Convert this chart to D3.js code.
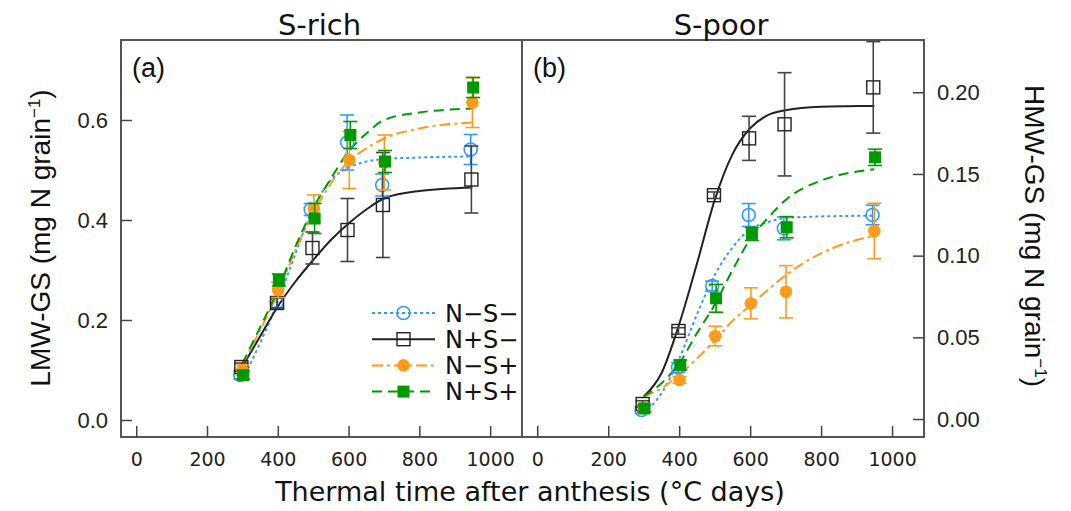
<!DOCTYPE html>
<html>
<head>
<meta charset="utf-8">
<script src="https://d3js.org/d3.v7.min.js"></script>
<style>
  body { margin: 0; background: #fff; }
</style>
</head>
<body>
<script>
// Dimensions
const width = 1071;
const height = 511;
const frameTop = 40;
const frameBottom = 437;

// Series (legend order)
const seriesNames = ["N−S−", "N+S−", "N−S+", "N+S+"];

// Sampling times (°C days), one per series - markers are slightly offset in the figure
const tBlue   = [294, 397, 493, 596, 695, 945];
const tBlack  = [297, 398, 498, 597, 697, 947];
const tOrange = [300, 401, 502, 602, 701, 950];
const tGreen  = [302, 403, 504, 605, 703, 952];

// (a) S-rich, LMW-GS means and error
const richBlue    = [0.090, 0.235, 0.421, 0.555, 0.470, 0.541];
const richBlueErr = [0.008, 0.010, 0.012, 0.055, 0.022, 0.030];
const richBlack    = [0.106, 0.234, 0.344, 0.380, 0.430, 0.481];
const richBlackErr = [0.008, 0.010, 0.032, 0.063, 0.105, 0.067];
const richOrange    = [0.100, 0.260, 0.423, 0.520, 0.515, 0.635];
const richOrangeErr = [0.010, 0.015, 0.027, 0.057, 0.055, 0.050];
const richGreen    = [0.090, 0.280, 0.403, 0.570, 0.517, 0.665];
const richGreenErr = [0.008, 0.012, 0.030, 0.027, 0.022, 0.020];

// (b) S-poor, HMW-GS means and error
const poorBlue    = [0.0055, 0.0316, 0.0814, 0.1249, 0.1167, 0.1249];
const poorBlueErr = [0.002, 0.003, 0.003, 0.007, 0.007, 0.006];
const poorBlack    = [0.0092, 0.0539, 0.1370, 0.1718, 0.1804, 0.2030];
const poorBlackErr = [0.002, 0.002, 0.002, 0.0135, 0.0316, 0.028];
const poorOrange    = [0.0065, 0.0239, 0.0508, 0.0708, 0.0779, 0.1151];
const poorOrangeErr = [0.002, 0.002, 0.006, 0.0095, 0.016, 0.017];
const poorGreen    = [0.0065, 0.0331, 0.0739, 0.1133, 0.1174, 0.1602];
const poorGreenErr = [0.002, 0.003, 0.0085, 0.004, 0.0065, 0.005];

// fitted curves
const richCurveT = [300, 350, 400, 450, 500, 550, 600, 650, 700, 800, 950];
const richBlueFit   = [0.080, 0.154, 0.237, 0.333, 0.423, 0.480, 0.505, 0.517, 0.522, 0.525, 0.527];
const richBlackFit  = [0.107, 0.167, 0.227, 0.277, 0.320, 0.360, 0.393, 0.421, 0.443, 0.458, 0.465];
const richOrangeFit = [0.110, 0.180, 0.253, 0.340, 0.413, 0.473, 0.517, 0.543, 0.563, 0.583, 0.595];
const richGreenFit  = [0.113, 0.185, 0.260, 0.347, 0.423, 0.483, 0.537, 0.573, 0.600, 0.615, 0.623];

const poorCurveT = [300, 350, 400, 450, 500, 550, 600, 650, 700, 800, 875, 950];
const poorBlueFit   = [0.0035, 0.0157, 0.0370, 0.0640, 0.0880, 0.1050, 0.1160, 0.1205, 0.1230, 0.1240, 0.1243, 0.1245];
const poorBlackFit  = [0.0137, 0.0280, 0.0580, 0.0950, 0.1340, 0.1620, 0.1780, 0.1860, 0.1890, 0.1912, 0.1915, 0.1916];
const poorOrangeFit = [0.0137, 0.0188, 0.0270, 0.0370, 0.0480, 0.0600, 0.0695, 0.0790, 0.0880, 0.1014, 0.1080, 0.1120];
const poorGreenFit  = [0.0137, 0.0219, 0.0340, 0.0525, 0.0700, 0.0910, 0.1100, 0.1230, 0.1340, 0.1460, 0.1505, 0.1529];

// axis ticks
const xTicks = [0, 200, 400, 600, 800, 1000];
const richTicks = [0, 0.2, 0.4, 0.6];
const poorTicks = [0, 0.05, 0.10, 0.15, 0.20];

// styles
const colors  = ["#3399ff", "#222222", "#ff9a1a", "#009a00"];
const barCol  = ["#3399ff", "#444444", "#ff9a1a", "#009a00"];
const dashes  = ["3,3", null, "11,4,3,4", "10,6"];
const markers = ["openCircle", "openSquare", "circle", "square"];

const times = [tBlue, tBlack, tOrange, tGreen];

const panels = [
  { label: "(a)", title: "S-rich", x0: 121, x1: 522, yDomain: [-0.034, 0.76],
    ticks: richTicks, fmt: d3.format(".1f"), side: "left",
    means: [richBlue, richBlack, richOrange, richGreen],
    errs: [richBlueErr, richBlackErr, richOrangeErr, richGreenErr],
    curveT: richCurveT, fits: [richBlueFit, richBlackFit, richOrangeFit, richGreenFit] },
  { label: "(b)", title: "S-poor", x0: 522, x1: 924, yDomain: [-0.011, 0.232],
    ticks: poorTicks, fmt: d3.format(".2f"), side: "right",
    means: [poorBlue, poorBlack, poorOrange, poorGreen],
    errs: [poorBlueErr, poorBlackErr, poorOrangeErr, poorGreenErr],
    curveT: poorCurveT, fits: [poorBlueFit, poorBlackFit, poorOrangeFit, poorGreenFit] }
];

const svg = d3.select("body")
              .append("svg")
              .attr("width", width)
              .attr("height", height)
              .style("display", "block");

function drawMarker(g, kind, cx, cy, i) {
  if (kind === "openCircle") {
    g.append("circle").attr("cx", cx).attr("cy", cy).attr("r", 6.5)
     .attr("fill", "none").attr("stroke", colors[i]).attr("stroke-width", 1.6);
  } else if (kind === "circle") {
    g.append("circle").attr("cx", cx).attr("cy", cy).attr("r", 6.3)
     .attr("fill", colors[i]);
  } else if (kind === "openSquare") {
    g.append("rect").attr("x", cx - 6.5).attr("y", cy - 6.5).attr("width", 13).attr("height", 13)
     .attr("fill", "none").attr("stroke", colors[i]).attr("stroke-width", 1.4);
  } else {
    g.append("rect").attr("x", cx - 6).attr("y", cy - 6).attr("width", 12).attr("height", 12)
     .attr("fill", colors[i]);
  }
}

panels.forEach(p => {
  const x = d3.scaleLinear().domain([-43, 1090]).range([p.x0, p.x1]);
  const y = d3.scaleLinear().domain(p.yDomain).range([frameBottom, frameTop]);
  const g = svg.append("g");

  // frame
  g.append("rect")
   .attr("x", p.x0).attr("y", frameTop)
   .attr("width", p.x1 - p.x0).attr("height", frameBottom - frameTop)
   .attr("fill", "none").attr("stroke", "#555").attr("stroke-width", 2);

  // x axis (ticks point inward)
  g.append("g")
   .attr("transform", `translate(0,${frameBottom})`)
   .call(d3.axisBottom(x).tickValues(xTicks).tickSizeInner(-11).tickSizeOuter(0).tickPadding(16).tickFormat(d3.format("d")))
   .call(a => a.select(".domain").remove())
   .call(a => a.selectAll("line").attr("stroke", "#444").attr("stroke-width", 1.5))
   .call(a => a.selectAll("text").attr("font-family", "DejaVu Sans").attr("font-size", 19).attr("fill", "#222"));

  // y axis
  const yAxis = p.side === "left" ? d3.axisLeft(y) : d3.axisRight(y);
  g.append("g")
   .attr("transform", `translate(${p.side === "left" ? p.x0 : p.x1},0)`)
   .call(yAxis.tickValues(p.ticks).tickSizeInner(-11).tickSizeOuter(0).tickPadding(13).tickFormat(p.fmt))
   .call(a => a.select(".domain").remove())
   .call(a => a.selectAll("line").attr("stroke", "#444").attr("stroke-width", 1.5))
   .call(a => a.selectAll("text").attr("font-family", "Liberation Sans").attr("font-size", 22).attr("fill", "#222"));

  // title and panel label
  svg.append("text")
     .attr("x", (p.x0 + p.x1) / 2 - 2).attr("y", 35)
     .attr("text-anchor", "middle")
     .attr("font-family", "DejaVu Sans").attr("font-size", 29).attr("fill", "#111")
     .text(p.title);
  svg.append("text")
     .attr("x", p.x0 + 11).attr("y", 77)
     .attr("font-family", "Liberation Sans").attr("font-size", 27).attr("fill", "#111")
     .text(p.label);

  // fitted curves
  const line = d3.line()
                 .x(d => x(d[0]))
                 .y(d => y(d[1]))
                 .curve(d3.curveMonotoneX);
  p.fits.forEach((f, i) => {
    g.append("path")
     .datum(p.curveT.map((t, k) => [t, f[k]]))
     .attr("fill", "none")
     .attr("stroke", colors[i])
     .attr("stroke-width", 2)
     .attr("stroke-dasharray", dashes[i])
     .attr("d", line);
  });

  // observations with error bars
  p.means.forEach((m, i) => {
    const s = g.append("g");
    m.forEach((v, k) => {
      const cx = x(times[i][k]);
      const e = p.errs[i][k];
      const yt = y(v + e), yb = y(v - e);
      s.append("line").attr("x1", cx).attr("x2", cx).attr("y1", yt).attr("y2", yb)
       .attr("stroke", barCol[i]).attr("stroke-width", 1.6);
      [yt, yb].forEach(yy => {
        s.append("line").attr("x1", cx - 7).attr("x2", cx + 7).attr("y1", yy).attr("y2", yy)
         .attr("stroke", barCol[i]).attr("stroke-width", 1.6);
      });
      drawMarker(s, markers[i], cx, y(v), i);
    });
  });

  // legend in panel (a)
  if (p.side === "left") {
    const lg = g.append("g");
    seriesNames.forEach((name, i) => {
      const ly = 313 + i * 26.2;
      lg.append("line").attr("x1", 372).attr("x2", 435).attr("y1", ly).attr("y2", ly)
        .attr("stroke", colors[i]).attr("stroke-width", 2).attr("stroke-dasharray", dashes[i]);
      drawMarker(lg, markers[i], 403.5, ly, i);
      lg.append("text")
        .attr("x", 445).attr("y", ly + 8.5)
        .attr("font-family", "DejaVu Sans").attr("font-size", 24).attr("fill", "#111")
        .text(name);
    });
  }
});

// x axis title
svg.append("text")
   .attr("x", 530).attr("y", 501)
   .attr("text-anchor", "middle")
   .attr("font-family", "DejaVu Sans").attr("font-size", 27).attr("fill", "#111")
   .text("Thermal time after anthesis (°C days)");

// y axis titles
function yTitle(tx, ty, rot, txt) {
  const t = svg.append("text")
     .attr("transform", `translate(${tx},${ty}) rotate(${rot})`)
     .attr("text-anchor", "middle")
     .attr("font-family", "Liberation Sans").attr("font-size", 28).attr("fill", "#111");
  t.append("tspan").text(txt + " (mg N grain");
  t.append("tspan").attr("dy", -10).attr("font-size", 17).text("−1");
  t.append("tspan").attr("dy", 10).text(")");
}
yTitle(50, 238, -90, "LMW-GS");
yTitle(1025, 236, 90, "HMW-GS");
</script>
</body>
</html>
